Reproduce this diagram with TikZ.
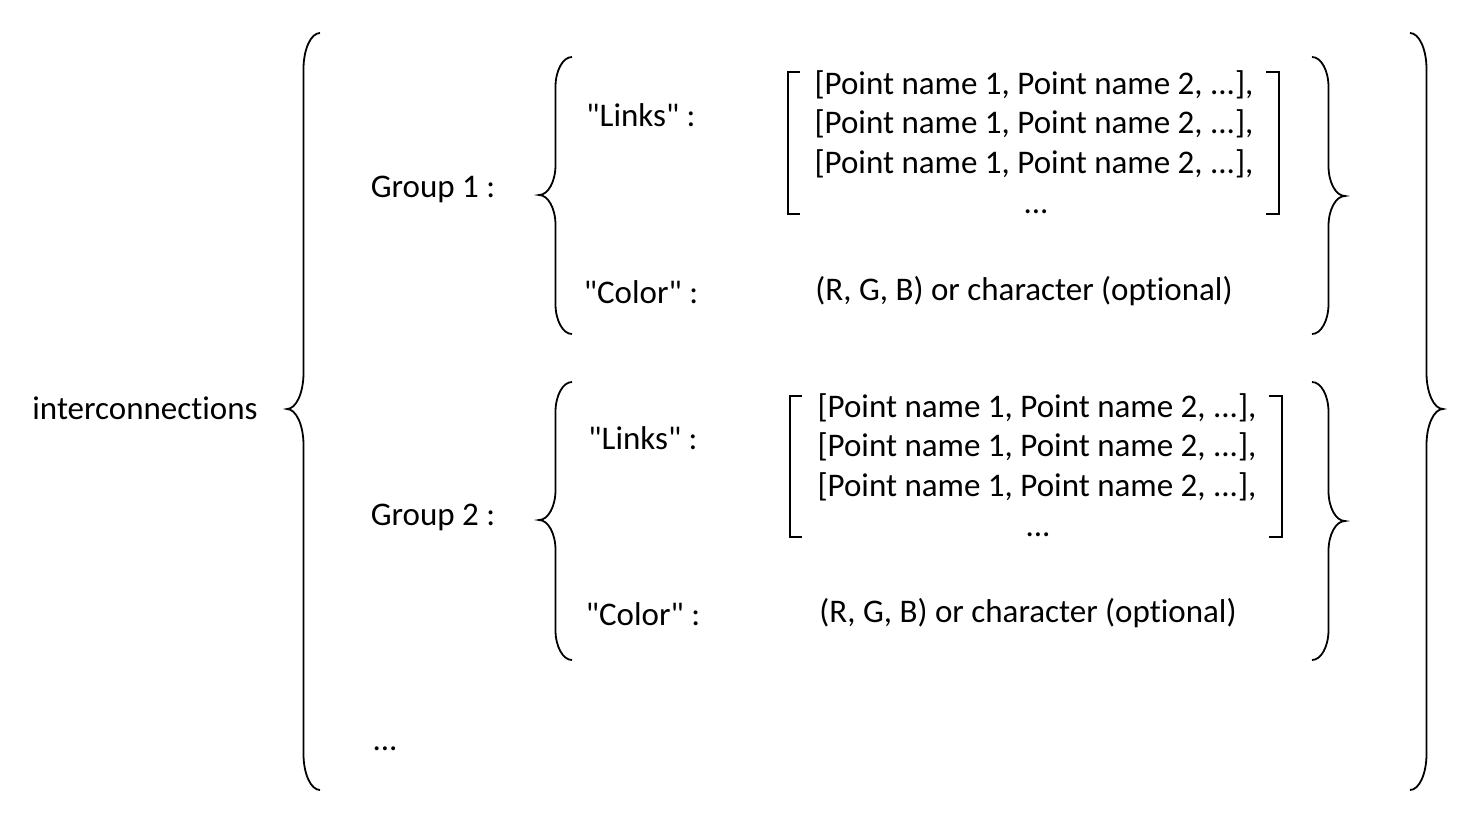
\documentclass[tikz,border=0pt]{standalone}
\usepackage{fontspec}
\setmainfont{Carlito}[Ligatures={TeXOff,NoCommon}]
\usepackage{tikz}
\usetikzlibrary{positioning}

% curly brace: x of ends, top, tip, bottom, half width (signed), radius
\newcommand{\curly}[6]{%
\draw[brace] (#1,#2) .. controls ({#1-0.552*(#5)},#2) and ({#1-(#5)},{#2+0.448*#6}) .. ({#1-(#5)},{#2+#6})
	-- ({#1-(#5)},{#3-#6}) .. controls ({#1-(#5)},{#3-0.448*#6}) and ({#1-1.448*(#5)},#3) .. ({#1-2*(#5)},#3)
	.. controls ({#1-1.448*(#5)},#3) and ({#1-(#5)},{#3+0.448*#6}) .. ({#1-(#5)},{#3+#6})
	-- ({#1-(#5)},{#4-#6}) .. controls ({#1-(#5)},{#4-0.448*#6}) and ({#1-0.552*(#5)},#4) .. (#1,#4);}

\begin{document}
\begin{tikzpicture}[x=0.5pt,y=-0.5pt]
\tikzstyle{txt}=[inner sep=0pt, anchor=base, font=\fontsize{16.5pt}{20pt}\selectfont]
\tikzstyle{brace}=[line width=0.9pt, draw=black]
\tikzstyle{bracket}=[line width=0.9pt, draw=black]
\useasboundingbox (0,0) rectangle (1472,820);
	\node[txt] (root) at (145,419) {interconnections};
	% group 1
	\node[txt] (g_1) at (433,197) {Group 1 :};
	\node[txt] (l_1) at (641,126) {"Links" :};
	\node[txt] (c_1) at (641,303) {"Color" :};
	\node[txt] (p_11) at (1034,94) {[Point name 1, Point name 2, ...],};
	\node[txt] (p_12) at (1034,133) {[Point name 1, Point name 2, ...],};
	\node[txt] (p_13) at (1034,173) {[Point name 1, Point name 2, ...],};
	\node[txt] (p_14) at (1036,213) {...};
	\node[txt] (v_1) at (1024,300) {(R, G, B) or character (optional)};
	% group 2
	\node[txt] (g_2) at (433,525) {Group 2 :};
	\node[txt] (l_2) at (643,449) {"Links" :};
	\node[txt] (c_2) at (643,625) {"Color" :};
	\node[txt] (p_21) at (1037,417) {[Point name 1, Point name 2, ...],};
	\node[txt] (p_22) at (1037,456) {[Point name 1, Point name 2, ...],};
	\node[txt] (p_23) at (1037,496) {[Point name 1, Point name 2, ...],};
	\node[txt] (p_24) at (1038,536) {...};
	\node[txt] (v_2) at (1028,622) {(R, G, B) or character (optional)};
	\node[txt] (more) at (385,750) {...};

	\curly{320}{33}{409}{790}{16.5}{36}
	\curly{1410}{33}{409}{790}{-16.5}{36}
	\curly{572}{57}{195}{334}{16.5}{30}
	\curly{1312}{57}{196}{334}{-16.5}{30}
	\curly{572}{382}{520}{660}{16.5}{30}
	\curly{1312}{382}{521}{660}{-16.5}{30}

	\draw[bracket] (800,72) -- (788,72) -- (788,214) -- (800,214);
	\draw[bracket] (1266,72) -- (1279,72) -- (1279,214) -- (1266,214);
	\draw[bracket] (802,396) -- (790,396) -- (790,537) -- (802,537);
	\draw[bracket] (1269,396) -- (1282,396) -- (1282,537) -- (1269,537);
\end{tikzpicture}
\end{document}
